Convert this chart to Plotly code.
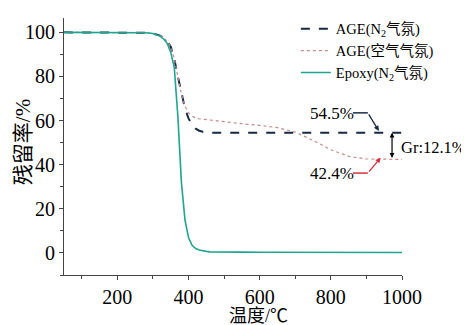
import plotly.graph_objects as go

temp = [50, 100, 200, 250, 280, 300, 320, 330, 340, 350, 360, 370, 380, 390, 400, 410, 420, 430, 440,
        450, 460, 480, 500, 550, 600, 650, 700, 750, 800, 850, 900, 950, 1000]
age_n2 = [100, 100, 100, 100, 99.8, 99.5, 98.5, 97.5, 96, 93.5, 88, 80, 72, 65.5, 61, 58, 56.3, 55.4, 54.9,
          54.6, 54.5, 54.5, 54.5, 54.5, 54.5, 54.5, 54.5, 54.5, 54.5, 54.5, 54.5, 54.5, 54.5]
age_air = [100, 100, 100, 100, 99.8, 99.5, 98.5, 97.5, 96, 93.5, 88, 80, 72, 66.5, 63.5, 62, 61.2, 60.8, 60.6,
           60.4, 60.2, 59.9, 59.5, 58.6, 57.8, 56.8, 54.8, 51, 46.8, 43.8, 42.6, 42.4, 42.4]
epoxy = [100, 100, 100, 100, 99.8, 99.5, 98.3, 97, 95, 91, 84, 62, 32, 15, 7, 3.5, 2, 1.3, 0.9,
         0.7, 0.5, 0.4, 0.4, 0.35, 0.3, 0.3, 0.3, 0.25, 0.2, 0.2, 0.2, 0.2, 0.2]

residue_n2 = 54.5
residue_air = 42.4
gr_x = 972

FONT = "Liberation Serif, Times New Roman, Noto Sans CJK SC, serif"
C_N2 = "#172a44"
C_AIR = "#c98a8a"
C_EP = "#1fa590"
C_RED = "#d8303a"

fig = go.Figure()
fig.add_trace(go.Scatter(x=temp, y=age_n2, mode="lines", name="AGE(N<sub>2</sub>气氛)",
                         line=dict(color=C_N2, width=2, dash="dash")))
fig.add_trace(go.Scatter(x=temp, y=age_air, mode="lines", name="AGE(空气气氛)",
                         line=dict(color=C_AIR, width=1.2, dash="dot")))
fig.add_trace(go.Scatter(x=temp, y=epoxy, mode="lines", name="Epoxy(N<sub>2</sub>气氛)",
                         line=dict(color=C_EP, width=1.6)))

# bent leader lines (segments) for the labels
fig.add_trace(go.Scatter(x=[862, 904], y=[63.5, 63.5], mode="lines", showlegend=False,
                         line=dict(color=C_N2, width=1.5), hoverinfo="skip"))
fig.add_trace(go.Scatter(x=[862, 904], y=[36.2, 36.2], mode="lines", showlegend=False,
                         line=dict(color=C_RED, width=1.5), hoverinfo="skip"))

ann = [
    dict(x=935, y=residue_n2 + 0.8, ax=904, ay=63.5, axref="x", ayref="y", xref="x", yref="y",
         showarrow=True, arrowhead=2, arrowsize=0.8, arrowwidth=1.3, arrowcolor=C_N2, text=""),
    dict(x=940, y=residue_air + 0.8, ax=904, ay=36.2, axref="x", ayref="y", xref="x", yref="y",
         showarrow=True, arrowhead=2, arrowsize=0.8, arrowwidth=1.3, arrowcolor=C_RED, text=""),
    dict(x=gr_x, y=residue_n2, ax=gr_x, ay=residue_air, axref="x", ayref="y", xref="x", yref="y",
         showarrow=True, arrowhead=2, arrowside="end+start", arrowsize=0.8, arrowwidth=1.2,
         arrowcolor="black", text=""),
    dict(x=803, y=63.2, xref="x", yref="y", text="54.5%", showarrow=False,
         font=dict(family=FONT, size=17, color="black")),
    dict(x=803, y=36.2, xref="x", yref="y", text="42.4%", showarrow=False,
         font=dict(family=FONT, size=17, color="black")),
    dict(x=992, y=47.8, xref="x", yref="y", text="Gr:12.1%", showarrow=False, xanchor="left",
         font=dict(family=FONT, size=16.5, color="black")),
    # axis titles
    dict(x=0.574, y=0, xref="paper", yref="paper", yshift=-41, yanchor="middle", text="温度/℃",
         showarrow=False, font=dict(family=FONT, size=18, color="black")),
    dict(x=0, y=0.517, xref="paper", yref="paper", xshift=-41, xanchor="center", yanchor="middle",
         text="残留率/%", textangle=-90, showarrow=False,
         font=dict(family=FONT, size=21, color="black")),
]

fig.update_layout(
    width=461, height=317,
    margin=dict(l=56, r=67, t=10, b=50, autoexpand=False),
    paper_bgcolor="white", plot_bgcolor="white",
    font=dict(family=FONT, color="black"),
    annotations=ann,
    legend=dict(x=0.686, y=1.02, xanchor="left", yanchor="top", bgcolor="rgba(0,0,0,0)",
                font=dict(family=FONT, size=14.5, color="black"), tracegroupgap=0,
                itemwidth=30),
    xaxis=dict(range=[50, 1000], tickvals=[200, 400, 600, 800, 1000], ticks="outside", ticklen=4,
               minor=dict(dtick=100, tick0=0, ticks="outside", ticklen=3, tickcolor="#444"),
               showline=True, linecolor="#444", linewidth=1.2, showgrid=False, zeroline=False,
               automargin=False, tickfont=dict(family=FONT, size=20)),
    yaxis=dict(range=[-10, 106.5], tickvals=[0, 20, 40, 60, 80, 100], ticks="outside", ticklen=4,
               minor=dict(dtick=10, tick0=0, ticks="outside", ticklen=3, tickcolor="#444"),
               showline=True, linecolor="#444", linewidth=1.2, showgrid=False, zeroline=False,
               automargin=False, tickfont=dict(family=FONT, size=20)),
)

fig.write_html("out.html")
